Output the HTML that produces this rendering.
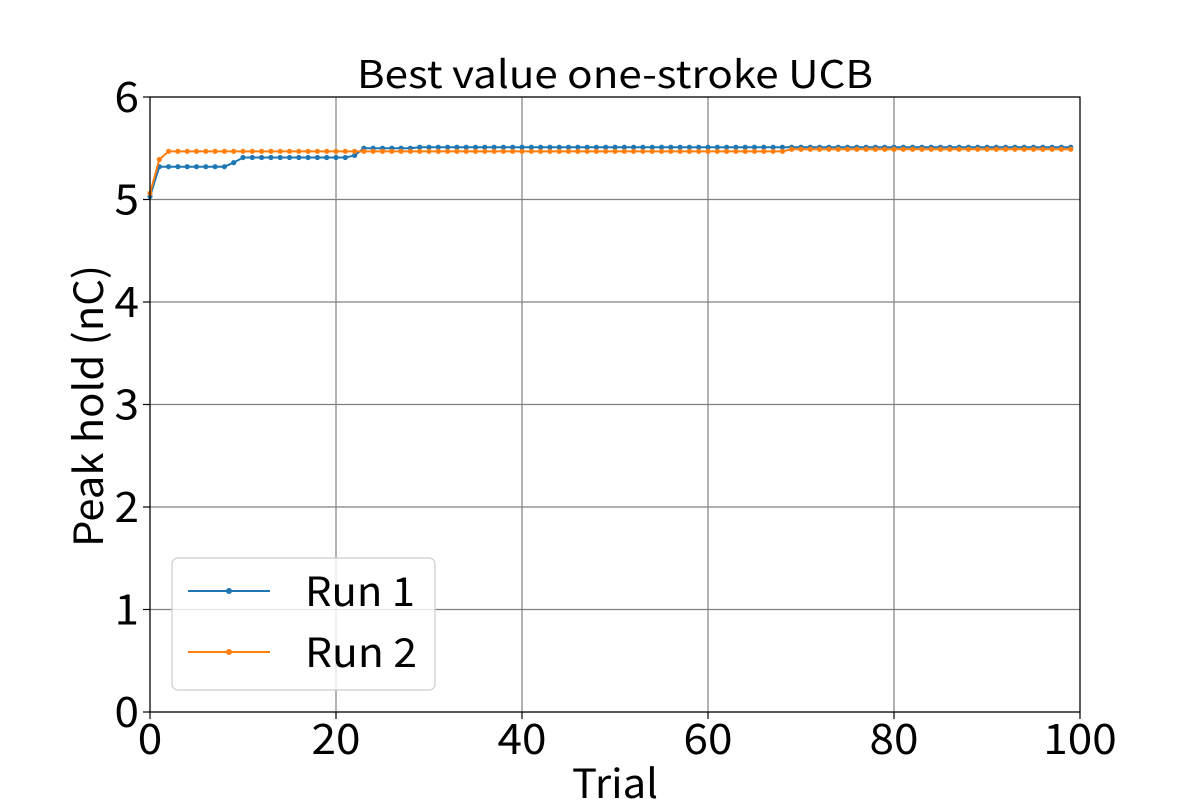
<!DOCTYPE html>
<html><head><meta charset="utf-8"><style>
body{margin:0;background:#fff;}
svg text{font-family:"Noto Sans CJK JP","Liberation Sans",sans-serif;fill:#000;}
</style></head><body>
<svg id="chart" width="1200" height="800" viewBox="0 0 1200 800" xmlns="http://www.w3.org/2000/svg">
<rect x="0" y="0" width="1200" height="800" fill="#fff"/>
<g id="grid"></g>
<g id="series"></g>
<rect x="150" y="97" width="930" height="615" fill="none" stroke="#000" stroke-width="1.2"/>
<g id="ticks"></g>
<text x="357" y="88" font-size="38" textLength="516" lengthAdjust="spacingAndGlyphs">Best value one-stroke UCB</text>
<text x="572" y="798" font-size="40" textLength="86" lengthAdjust="spacingAndGlyphs">Trial</text>
<text transform="translate(103,406) rotate(-90)" font-size="40" text-anchor="middle" textLength="282" lengthAdjust="spacingAndGlyphs">Peak hold (nC)</text>
<g>
<rect x="172" y="558" width="263" height="132" rx="6" fill="#fff" fill-opacity="0.8" stroke="#ccc" stroke-width="1.2"/>
<g>
<line x1="188" y1="591" x2="270" y2="591" stroke="#1f77b4" stroke-width="2"/>
<circle cx="229" cy="591" r="3" fill="#1f77b4"/>
<text x="305" y="606" font-size="40" textLength="110" lengthAdjust="spacingAndGlyphs">Run 1</text></g>
<g>
<line x1="188" y1="652" x2="270" y2="652" stroke="#ff7f0e" stroke-width="2"/>
<circle cx="229" cy="652" r="3" fill="#ff7f0e"/>
<text x="305" y="667" font-size="40" textLength="112" lengthAdjust="spacingAndGlyphs">Run 2</text></g>
</g>
</svg>
<script>
const run1Segments=[[0,0,5.03],[1,8,5.32],[9,9,5.36],[10,21,5.41],[22,22,5.43],[23,28,5.50],[29,99,5.51]];
const run2Segments=[[0,0,5.06],[1,1,5.39],[2,68,5.47],[69,99,5.49]];
const xTicks=[0,20,40,60,80,100];
const yTicks=[0,1,2,3,4,5,6];
function expand(segs){const v=[];segs.forEach(s=>{for(let i=s[0];i<=s[1];i++)v.push(s[2]);});return v;}
const run1=expand(run1Segments), run2=expand(run2Segments);
const X=v=>150+v*9.3, Y=v=>712-v*102.5;
const NS="http://www.w3.org/2000/svg";
const grid=document.getElementById('grid'),ticks=document.getElementById('ticks'),series=document.getElementById('series');
function mk(t,a,p){const e=document.createElementNS(NS,t);for(const k in a)e.setAttribute(k,a[k]);p.appendChild(e);return e;}
xTicks.forEach(t=>{
 const g=mk('line',{x1:X(t),x2:X(t),y1:97,y2:712,stroke:'#808080','stroke-width':1.2},grid);
 
 
 mk('line',{x1:X(t),x2:X(t),y1:712,y2:719,stroke:'#000','stroke-width':1.2},ticks);
 const s=String(t);
 const tx=mk('text',{x:X(t),y:754,'font-size':42,'text-anchor':'middle',textLength:s.length*24.5,lengthAdjust:'spacingAndGlyphs'},ticks);tx.textContent=s;
 
 
});
yTicks.forEach(t=>{
 const g=mk('line',{x1:150,x2:1080,y1:Y(t),y2:Y(t),stroke:'#808080','stroke-width':1.2},grid);
 
 
 mk('line',{x1:143,x2:150,y1:Y(t),y2:Y(t),stroke:'#000','stroke-width':1.2},ticks);
 const tx=mk('text',{x:139,y:Y(t)+15,'font-size':42,'text-anchor':'end',textLength:24.5,lengthAdjust:'spacingAndGlyphs'},ticks);tx.textContent=t;
 
 
});
[[run1,'#1f77b4','run-1'],[run2,'#ff7f0e','run-2']].forEach(([d,c,n])=>{
 const g=mk('g',{},series);
 
 
 const pl=mk('polyline',{points:d.map((v,i)=>X(i)+','+Y(v)).join(' '),fill:'none',stroke:c,'stroke-width':2},g);
 
 
 d.forEach((v,i)=>{const p=mk('circle',{cx:X(i),cy:Y(v),r:2.6,fill:c},g);
  
  });
});
</script>
</body></html>
